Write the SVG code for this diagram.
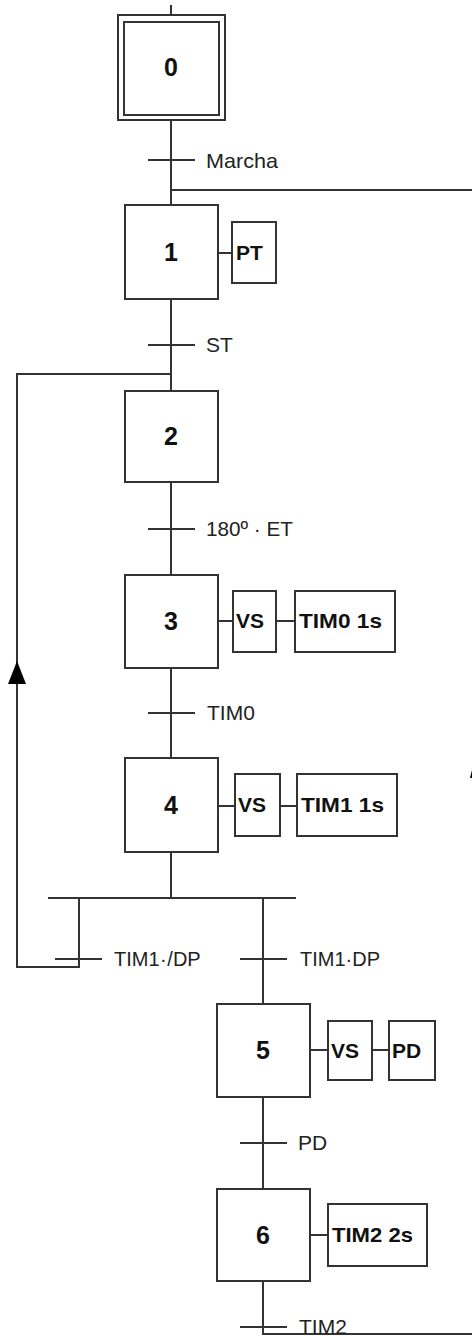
<svg xmlns="http://www.w3.org/2000/svg" width="472" height="1336" viewBox="0 0 472 1336">
<style>
.ln{stroke:#333;stroke-width:2;fill:none}
.bx{stroke:#333;stroke-width:2;fill:#fff}
.num{font-family:"Liberation Sans",Arial,sans-serif;font-weight:bold;font-size:25px;fill:#111;text-anchor:middle}
.act{font-family:"Liberation Sans",Arial,sans-serif;font-weight:bold;font-size:21px;fill:#111}
.lbl{font-family:"Liberation Sans",Arial,sans-serif;font-size:21px;fill:#222}
</style>
<rect width="472" height="1336" fill="#fff"/>
<g id="connectors">
<path class="ln" d="M171,5V15M171,120V205M171,299V391M171,482V575M171,668V758M171,852V898"/>
<path class="ln" d="M171,190H472"/>
<path class="ln" d="M171,374H17V967H79V898"/>
<path class="ln" d="M48,898H296"/>
<path class="ln" d="M263,898V1004M263,1097V1189M263,1281V1334H472"/>
<polygon points="17,661 8,684 26,684" fill="#000"/>
<polygon points="470,778 472,770 472,778" fill="#000"/>
<path class="ln" d="M148,160H195M148,345H195M148,529H195M148,713H195M55,959H102M240,959H287M240,1143H287M240,1327H287"/>
<path class="ln" d="M218,253H232M218,621H233M276,621H295M218,806H235M280,806H297M310,1050H328M372,1050H389M310,1235H328"/>
</g>
<g id="step0"><rect class="bx" x="118" y="15" width="107" height="105"/><rect class="bx" x="124" y="22" width="95" height="93"/><text class="num" x="171" y="76">0</text></g>
<g id="t-marcha"><text class="lbl" x="206" y="168" textLength="72" lengthAdjust="spacingAndGlyphs">Marcha</text></g>
<g id="step1"><rect class="bx" x="125" y="205" width="93" height="94"/><text class="num" x="171" y="261">1</text></g>
<g id="a-pt"><rect class="bx" x="232" y="222" width="44" height="61"/><text class="act" x="236" y="260">PT</text></g>
<g id="t-st"><text class="lbl" x="206" y="352">ST</text></g>
<g id="step2"><rect class="bx" x="125" y="391" width="93" height="91"/><text class="num" x="171" y="445">2</text></g>
<g id="t-180"><text class="lbl" x="206" y="536" textLength="87" lengthAdjust="spacingAndGlyphs">180º · ET</text></g>
<g id="step3"><rect class="bx" x="125" y="575" width="93" height="93"/><text class="num" x="171" y="630">3</text></g>
<g id="a-vs3"><rect class="bx" x="233" y="591" width="43" height="61"/><text class="act" x="236" y="628">VS</text></g>
<g id="a-tim0"><rect class="bx" x="295" y="591" width="100" height="61"/><text class="act" x="299" y="628" textLength="83" lengthAdjust="spacingAndGlyphs">TIM0 1s</text></g>
<g id="t-tim0"><text class="lbl" x="207" y="720">TIM0</text></g>
<g id="step4"><rect class="bx" x="125" y="758" width="93" height="94"/><text class="num" x="171" y="814">4</text></g>
<g id="a-vs4"><rect class="bx" x="235" y="774" width="45" height="62"/><text class="act" x="238" y="812">VS</text></g>
<g id="a-tim1"><rect class="bx" x="297" y="774" width="100" height="62"/><text class="act" x="301" y="812" textLength="83" lengthAdjust="spacingAndGlyphs">TIM1 1s</text></g>
<g id="t-tim1ndp"><text class="lbl" x="114" y="966" style="font-size:20px;word-spacing:-5px">TIM1 · /DP</text></g>
<g id="t-tim1dp"><text class="lbl" x="300" y="966" textLength="80" lengthAdjust="spacingAndGlyphs">TIM1·DP</text></g>
<g id="step5"><rect class="bx" x="217" y="1004" width="93" height="93"/><text class="num" x="263" y="1059">5</text></g>
<g id="a-vs5"><rect class="bx" x="328" y="1021" width="44" height="59"/><text class="act" x="331" y="1058">VS</text></g>
<g id="a-pd"><rect class="bx" x="389" y="1021" width="46" height="59"/><text class="act" x="392" y="1058">PD</text></g>
<g id="t-pd"><text class="lbl" x="298" y="1150">PD</text></g>
<g id="step6"><rect class="bx" x="217" y="1189" width="93" height="92"/><text class="num" x="263" y="1244">6</text></g>
<g id="a-tim2"><rect class="bx" x="328" y="1204" width="99" height="62"/><text class="act" x="332" y="1242" textLength="81" lengthAdjust="spacingAndGlyphs">TIM2 2s</text></g>
<g id="t-tim2"><text class="lbl" x="299" y="1334">TIM2</text></g>
</svg>
